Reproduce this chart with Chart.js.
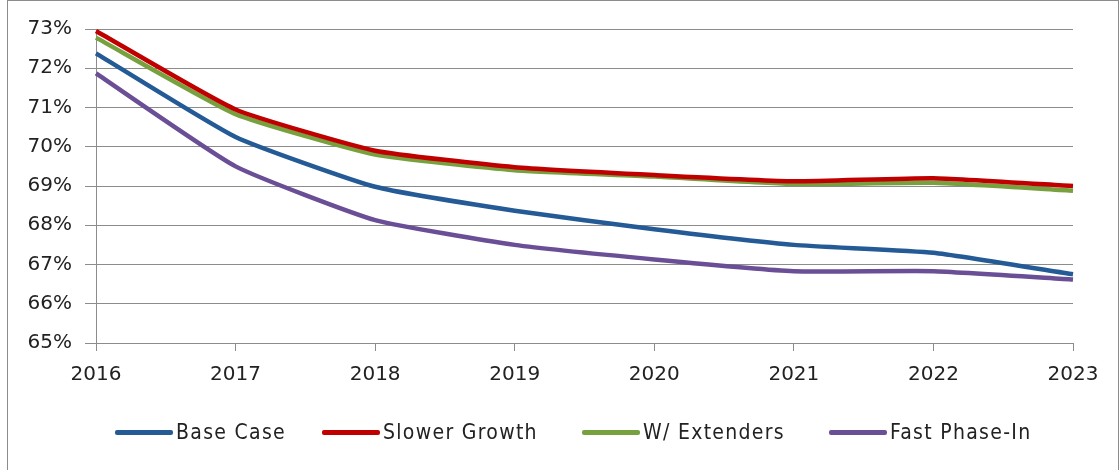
<!DOCTYPE html>
<html>
<head>
<meta charset="utf-8">
<script src="https://cdn.jsdelivr.net/npm/chart.js@4.4.1/dist/chart.umd.min.js"></script>
<style>
  html, body { margin: 0; padding: 0; background: #fff; }
  #frame { position: absolute; left: 7px; top: 0; width: 1112px; height: 475px; border: 1px solid #8c8c8c; box-sizing: border-box; }
  #wrap { position: absolute; left: 0; top: 0; width: 1120px; height: 470px; }
  #legendList { position: absolute; left: 0; top: 418px; margin: 0; padding: 0; list-style: none; white-space: nowrap;
    font-family: 'DejaVu Sans Condensed', 'DejaVu Sans', sans-serif; font-size: 21px; letter-spacing: 1.3px; color: #222; }
  #legendList li { position: absolute; top: 0; line-height: 28px; }
  #legendList li span { display: inline-block; width: 58px; height: 5px; border-radius: 2px; margin-right: 3px; vertical-align: middle; position: relative; top: -1px; }
</style>
</head>
<body>
<div id="frame"></div>
<div id="wrap"><canvas id="chart" width="1120" height="470"></canvas></div>
<ul id="legendList"></ul>
<script>
// years on the x axis
const years = ['2016', '2017', '2018', '2019', '2020', '2021', '2022', '2023'];

// values, in percent
const baseCase     = [72.38, 70.25, 68.98, 68.37, 67.9, 67.5, 67.3, 66.75];
const slowerGrowth = [72.95, 70.95, 69.9, 69.48, 69.28, 69.12, 69.2, 69.0];
const wExtenders   = [72.78, 70.83, 69.8, 69.4, 69.24, 69.05, 69.08, 68.88];
const fastPhaseIn  = [71.87, 69.5, 68.13, 67.5, 67.13, 66.83, 66.83, 66.62];

const seriesNames = ['Base Case', 'Slower Growth', 'W/ Extenders', 'Fast Phase-In'];
const seriesColors = ['#245a96', '#c00000', '#77a03f', '#6a4e96'];
const seriesData = [baseCase, slowerGrowth, wExtenders, fastPhaseIn];

// where each legend entry starts (px)
const legendLeft = [115, 322, 582, 829];

const tickFont = { family: 'DejaVu Sans', size: 20 };

const ctx = document.getElementById('chart').getContext('2d');
const chart = new Chart(ctx, {
  type: 'line',
  data: {
    labels: years,
    datasets: seriesData.map((d, i) => ({
      label: seriesNames[i],
      data: d,
      borderColor: seriesColors[i],
      backgroundColor: seriesColors[i],
      borderWidth: 4.5,
      pointRadius: 0,
      tension: 0.15
    }))
  },
  options: {
    responsive: false,
    animation: false,
    layout: { padding: { left: 0, right: 47, top: 29, bottom: 0 } },
    scales: {
      x: {
        offset: false,
        afterFit: s => { s.height = 127; },
        grid: { drawOnChartArea: false, color: '#8c8c8c', tickLength: 8 },
        border: { color: '#8c8c8c' },
        ticks: { color: '#222', font: tickFont, padding: 12, maxRotation: 0 }
      },
      y: {
        min: 65, max: 73,
        afterFit: s => { s.width = 96; },
        grid: { color: '#8c8c8c', tickLength: 11 },
        border: { color: '#8c8c8c' },
        ticks: {
          stepSize: 1, color: '#222', padding: 13,
          font: tickFont,
          callback: v => v + '%'
        }
      }
    },
    plugins: {
      tooltip: { enabled: false },
      legend: { display: false }
    }
  }
});

// legenda manual
const legendList = document.getElementById('legendList');
seriesNames.forEach((name, i) => {
  const li = document.createElement('li');
  li.style.left = legendLeft[i] + 'px';
  li.innerHTML = `<span style="background-color: ${seriesColors[i]};"></span>${name}`;
  legendList.appendChild(li);
});
</script>
</body>
</html>
